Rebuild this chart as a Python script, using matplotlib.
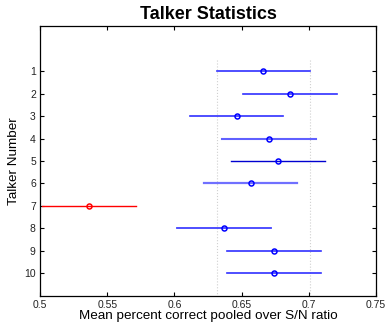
import numpy as np
import matplotlib
matplotlib.use("Agg")
import matplotlib.pyplot as plt

plt.rcParams['font.family'] = ['Liberation Sans', 'DejaVu Sans']

# Talker statistics (mean and comparison interval)
talkers = [1, 2, 3, 4, 5, 6, 7, 8, 9, 10]
means = [0.6662, 0.6860, 0.6463, 0.6701, 0.6769, 0.6570, 0.5365, 0.6369, 0.6740, 0.6738]
lows = [0.6315, 0.6513, 0.6116, 0.6357, 0.6421, 0.6220, 0.5018, 0.6017, 0.6389, 0.6389]
highs = [0.7009, 0.7208, 0.6810, 0.7051, 0.7121, 0.6914, 0.5712, 0.6716, 0.7091, 0.7088]
colors = ['#3030ff', '#3030ff', '#3030ff', '#6060ff', '#0000d0', '#7070ff', 'red', '#4040ff', '#3030ff', '#3030ff']
widths = [1.2, 1.2, 1.2, 1.5, 1.0, 1.6, 1.0, 1.3, 1.2, 1.2]
ref_lines = [0.6315, 0.7009]

fig = plt.figure(figsize=(3.87, 3.28), dpi=100)
ax = fig.add_axes([0.1034, 0.0976, 0.8682, 0.8231])

for x in ref_lines:
    ax.plot([x, x], [0.5, 11], color='#d0d0d0', linestyle=':', linewidth=0.8)

for t, m, lo, hi, c, w in zip(talkers, means, lows, highs, colors, widths):
    ax.plot([lo, hi], [t, t], color=c, linewidth=w)
    ax.plot(m, t, marker='o', markersize=3.6, markerfacecolor='none',
            markeredgecolor='red' if c == 'red' else 'blue', markeredgewidth=1.1)

ax.set_xlim(0.5, 0.75)
ax.set_ylim(11, -1)
ax.set_xticks([0.5, 0.55, 0.6, 0.65, 0.7, 0.75])
ax.set_xticklabels(['0.5', '0.55', '0.6', '0.65', '0.7', '0.75'])
ax.set_yticks(talkers)
ax.tick_params(direction='in', length=3, width=0.8, labelsize=7.5, labelcolor='#222222',
               top=True, right=True, pad=3)
for s in ax.spines.values():
    s.set_linewidth(0.9)

ax.set_title('Talker Statistics', fontsize=13, fontweight='bold', pad=5)
ax.set_xlabel('Mean percent correct pooled over S/N ratio', fontsize=9.7, labelpad=0)
ax.set_ylabel('Talker Number', fontsize=9.7, labelpad=3)

fig.savefig('out.png', dpi=100)
